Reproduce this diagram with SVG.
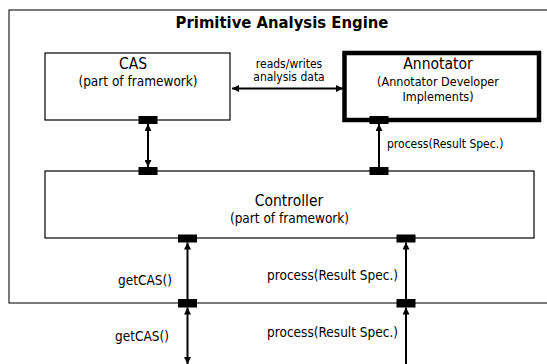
<svg xmlns="http://www.w3.org/2000/svg" width="547" height="364" viewBox="0 0 547 364">
<defs>
<style>
text{font-family:"DejaVu Sans Condensed","DejaVu Sans",sans-serif;font-stretch:condensed;fill:#000}
.box{fill:#fff;stroke:#000;stroke-width:1.2}
.thick{fill:#fff;stroke:#000;stroke-width:4.5}
.port{fill:#000}
.ln{stroke:#000;stroke-width:2;fill:none}
.h{font-size:15.5px}
.s{font-size:13.5px}
.l{font-size:13.5px}
.m{text-anchor:middle}
.e{text-anchor:end}
</style>
<marker id="ah" viewBox="0 0 10 10" refX="10" refY="5" markerWidth="7" markerHeight="7" orient="auto-start-reverse" markerUnits="userSpaceOnUse">
<path d="M0,0 L10,5 L0,10 z" fill="#000"/>
</marker>
</defs>
<rect width="547" height="364" fill="#fff"/>
<g id="engine">
<rect x="9" y="10" width="560" height="293" fill="#fff" stroke="#222" stroke-width="1.2"/>
<text x="282" y="28" class="m" style="font-weight:bold;font-size:16.5px">Primitive Analysis Engine</text>
</g>
<g id="cas">
<rect class="box" x="45" y="53" width="185" height="67"/>
<text x="133" y="69" class="m h">CAS</text>
<text x="138" y="86" class="m s">(part of framework)</text>
</g>
<g id="annotator">
<rect class="thick" x="344.5" y="53" width="194.5" height="67"/>
<text x="438" y="69" class="m h">Annotator</text>
<text x="438" y="86" class="m" style="font-size:12.5px">(Annotator Developer</text>
<text x="438" y="101" class="m" style="font-size:12.5px">Implements)</text>
</g>
<g id="controller">
<rect class="box" x="45" y="171" width="489" height="67"/>
<text x="289" y="206" class="m h">Controller</text>
<text x="289.5" y="223" class="m s">(part of framework)</text>
</g>
<g id="connectors">
<line class="ln" x1="232" y1="88.5" x2="343" y2="88.5" marker-start="url(#ah)" marker-end="url(#ah)"/>
<line class="ln" x1="148" y1="124" x2="148" y2="167" marker-start="url(#ah)" marker-end="url(#ah)"/>
<line class="ln" x1="379" y1="167" x2="379" y2="124" marker-end="url(#ah)"/>
<line class="ln" x1="187.5" y1="299" x2="187.5" y2="242.5" marker-end="url(#ah)"/>
<line class="ln" x1="406" y1="299" x2="406" y2="242.5" marker-end="url(#ah)"/>
<line class="ln" x1="187.5" y1="307.5" x2="187.5" y2="364" marker-start="url(#ah)" marker-end="url(#ah)"/>
<line class="ln" x1="406" y1="370" x2="406" y2="307.5" marker-end="url(#ah)"/>
<rect class="port" x="138.5" y="116" width="19" height="8"/>
<rect class="port" x="369.5" y="116" width="19" height="8"/>
<rect class="port" x="138.5" y="167" width="19" height="8"/>
<rect class="port" x="369.5" y="167" width="19" height="8"/>
<rect class="port" x="178" y="234.5" width="19" height="8"/>
<rect class="port" x="396.5" y="234.5" width="19" height="8"/>
<rect class="port" x="178" y="299" width="19" height="8.5"/>
<rect class="port" x="396.5" y="299" width="19" height="8.5"/>
<text x="289" y="68" class="m" style="font-size:12px">reads/writes</text>
<text x="289" y="81" class="m" style="font-size:12px">analysis data</text>
<text x="387" y="148" style="font-size:12px">process(Result Spec.)</text>
<text x="172" y="285" class="e l">getCAS()</text>
<text x="398" y="280" class="e l">process(Result Spec.)</text>
<text x="169" y="341" class="e l">getCAS()</text>
<text x="398" y="337" class="e l">process(Result Spec.)</text>
</g>
</svg>
